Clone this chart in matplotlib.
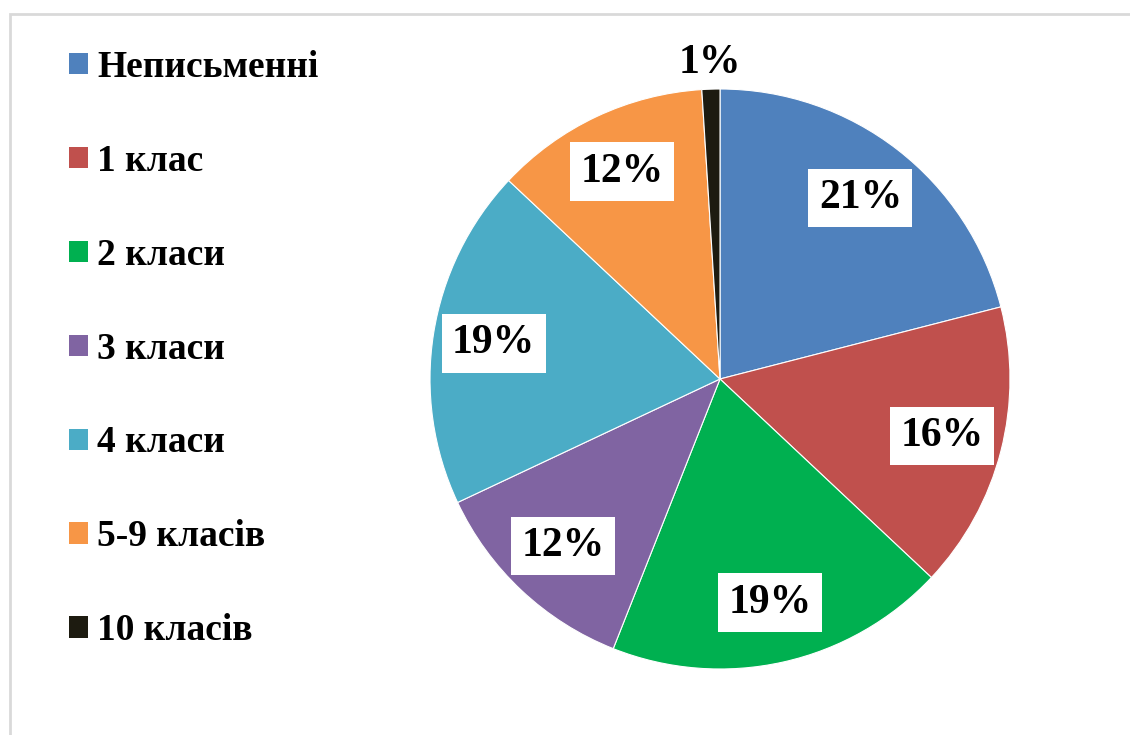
import matplotlib
matplotlib.use("Agg")
import matplotlib.pyplot as plt
from matplotlib.patches import Rectangle
import numpy as np

#
# data
#
categories = ["Неписьменні", "1 клас", "2 класи", "3 класи", "4 класи", "5-9 класів", "10 класів"]
shares = [21, 16, 19, 12, 19, 12, 1]
colors = ["#4F81BD", "#C0504D", "#00B050", "#8064A2", "#4BACC6", "#F79646", "#1D1B10"]

plt.rcParams['font.family'] = ['Liberation Serif', 'DejaVu Serif']
plt.rcParams['font.weight'] = 'bold'

W, H = 1130, 735
fig = plt.figure(figsize=(W / 100, H / 100), dpi=100)

# light gray frame around the chart area
fig.patches.append(Rectangle((10 / W, -0.05), 1.2, 1 - 14 / H + 0.05,
                             transform=fig.transFigure, fill=False,
                             edgecolor="#D9D9D9", linewidth=2))

# pie axes: center (720, 379), radius 290 px
cx, cy, r = 720, 379, 290
ax = fig.add_axes([(cx - r) / W, (H - cy - r) / H, 2 * r / W, 2 * r / H])
wedges, _ = ax.pie(shares, colors=colors, startangle=90, counterclock=False,
                   wedgeprops=dict(edgecolor="white", linewidth=0.8))
ax.set_xlim(-1, 1)
ax.set_ylim(-1, 1)
ax.set_aspect("equal")

for w, v in zip(wedges, shares):
    ang = np.deg2rad((w.theta1 + w.theta2) / 2)
    if v < 5:
        ax.text(1.09 * np.cos(ang), 1.09 * np.sin(ang), f"{v}%", ha="center", va="center",
                fontsize=30, fontweight="bold", color="black")
    else:
        ax.text(0.79 * np.cos(ang), 0.79 * np.sin(ang), f"{v}%", ha="center", va="center",
                fontsize=30, fontweight="bold", color="black",
                bbox=dict(boxstyle="square,pad=0.25", facecolor="white", edgecolor="none"))

leg = fig.legend(wedges, categories, loc="upper left", bbox_to_anchor=(54 / W, 1 - 35 / H),
                 frameon=False, fontsize=27, handlelength=0.5, handleheight=0.5,
                 handletextpad=0.25, labelspacing=1.57, borderaxespad=0)
for h in leg.legend_handles:
    h.set_edgecolor("none")

fig.savefig("out.png", dpi=100)
